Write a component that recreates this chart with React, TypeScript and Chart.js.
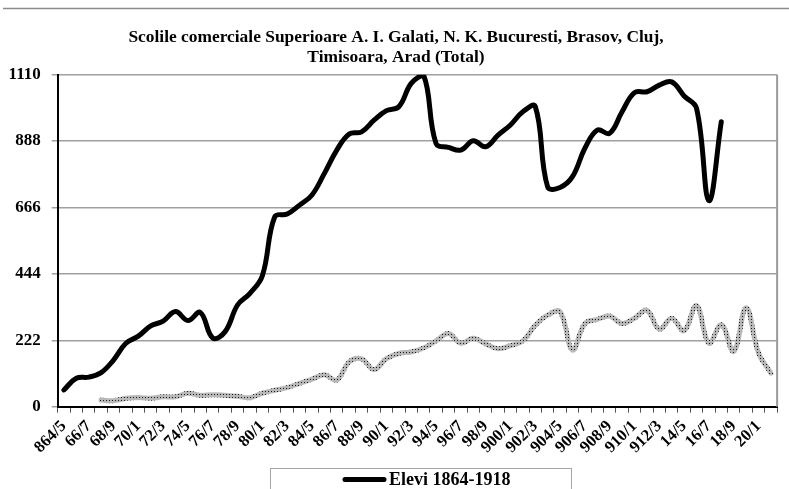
import React, { useEffect, useRef } from 'react';
import { Chart, registerables } from 'chart.js';

Chart.register(...registerables);

const categories = [
  '864/5', '65/6', '66/7', '67/8', '68/9', '69/70', '70/1', '71/2', '72/3', '73/4',
  '74/5', '75/6', '76/7', '77/8', '78/9', '79/80', '80/1', '81/2', '82/3', '83/4',
  '84/5', '85/6', '86/7', '87/8', '88/9', '89/90', '90/1', '91/2', '92/3', '93/4',
  '94/5', '95/6', '96/7', '97/8', '98/9', '99/900', '900/1', '901/2', '902/3', '903/4',
  '904/5', '905/6', '906/7', '907/8', '908/9', '909/10', '910/1', '911/2', '912/3', '913/4',
  '14/5', '15/6', '16/7', '17/8', '18/9', '19/20', '20/1', '21/2',
];

const elevi = [
  56, 95, 99, 114, 156, 212, 236, 270, 286, 318,
  288, 315, 230, 251, 340, 379, 438, 635, 644, 674,
  708, 780, 858, 912, 919, 958, 990, 1003, 1081, 1108,
  880, 867, 858, 889, 869, 908, 942, 986, 1004, 735,
  733, 769, 864, 925, 914, 986, 1050, 1053, 1075, 1086,
  1039, 998, 689, 953, null, null, null, null,
];

const secondSeries = [
  null, null, null, 22, 20, 28, 31, 28, 33, 33,
  45, 38, 40, 38, 35, 30, 45, 55, 64, 78,
  92, 107, 89, 150, 160, 124, 161, 178, 183, 196,
  220, 245, 212, 229, 210, 194, 204, 220, 272, 306,
  317, 190, 278, 292, 303, 278, 296, 322, 259, 296,
  254, 338, 212, 274, 185, 331, 180, 112,
];

const yTicks = [0, 222, 444, 666, 888, 1110];
const titleLines = [
  'Scolile comerciale Superioare A. I. Galati, N. K. Bucuresti, Brasov, Cluj,',
  'Timisoara, Arad (Total)',
];
const legendLabel = 'Elevi 1864-1918';

const FONT = '"Liberation Serif", "Times New Roman", serif';

const decorPlugin = {
  id: 'decor',
  beforeDraw(chart: any) {
    const { ctx, width, height } = chart;
    ctx.save();
    ctx.fillStyle = '#ffffff';
    ctx.fillRect(0, 0, width, height);
    ctx.restore();
  },
  afterDraw(chart: any) {
    const { ctx, chartArea } = chart;
    ctx.save();
    // outer frame top line
    ctx.strokeStyle = '#8c8c8c';
    ctx.lineWidth = 1.5;
    ctx.beginPath();
    ctx.moveTo(3, 8.5);
    ctx.lineTo(789, 8.5);
    ctx.stroke();
    // plot right border
    ctx.strokeStyle = '#9a9a9a';
    ctx.lineWidth = 2;
    ctx.beginPath();
    ctx.moveTo(chartArea.right, chartArea.top);
    ctx.lineTo(chartArea.right, chartArea.bottom);
    ctx.stroke();
    // title
    ctx.fillStyle = '#000';
    ctx.font = 'bold 17.4px ' + FONT;
    ctx.textAlign = 'center';
    ctx.textBaseline = 'middle';
    titleLines.forEach((t, k) => ctx.fillText(t, 396, 38 + k * 20));
    // legend
    ctx.strokeStyle = '#a6a6a6';
    ctx.lineWidth = 1;
    ctx.strokeRect(270.5, 468.5, 301, 30);
    ctx.strokeStyle = '#000';
    ctx.lineWidth = 5;
    ctx.lineCap = 'round';
    ctx.beginPath();
    ctx.moveTo(345, 479.5);
    ctx.lineTo(384, 479.5);
    ctx.stroke();
    ctx.textAlign = 'left';
    ctx.font = 'bold 18px ' + FONT;
    ctx.fillText(legendLabel, 389, 480);
    ctx.restore();
  },
};

export default function App() {
  const ref = useRef<HTMLCanvasElement | null>(null);

  useEffect(() => {
    document.body.style.margin = '0';
    const canvas = ref.current!;
    const ctx = canvas.getContext('2d')!;

    const pc = document.createElement('canvas');
    pc.width = 3;
    pc.height = 3;
    const p = pc.getContext('2d')!;
    p.fillStyle = '#b8b8b8';
    p.fillRect(0, 0, 3, 3);
    p.fillStyle = '#1a1a1a';
    p.fillRect(1, 1, 1, 1);
    const pattern = ctx.createPattern(pc, 'repeat');

    const chart = new Chart(ctx, {
      type: 'line',
      data: {
        labels: categories,
        datasets: [
          {
            label: 'Second series',
            data: secondSeries,
            borderColor: pattern as any,
            borderWidth: 5,
            pointRadius: 0,
            tension: 0.4,
            fill: false,
            spanGaps: false,
            borderCapStyle: 'round',
            borderJoinStyle: 'round',
          },
          {
            label: legendLabel,
            data: elevi,
            borderColor: '#000000',
            borderWidth: 5,
            pointRadius: 0,
            tension: 0.4,
            fill: false,
            spanGaps: false,
            borderCapStyle: 'round',
            borderJoinStyle: 'round',
          },
        ],
      },
      options: {
        responsive: false,
        animation: false,
        devicePixelRatio: 1,
        layout: { padding: { left: 0, right: 9, top: 74.7, bottom: 22.3 } },
        plugins: {
          legend: { display: false },
          title: { display: false },
          tooltip: { enabled: false },
        },
        scales: {
          x: {
            type: 'category',
            offset: true,
            afterFit: (s: any) => { s.height = 60; },
            grid: {
              offset: true,
              drawOnChartArea: false,
              drawTicks: true,
              tickLength: 6,
              color: '#555555',
            },
            border: { color: '#000000', width: 2 },
            ticks: {
              autoSkip: false,
              minRotation: 45,
              maxRotation: 45,
              padding: 4,
              color: '#000',
              font: { family: FONT, size: 16.5, weight: 'bold' },
              callback: (_v: any, i: number) => (i % 2 === 0 ? categories[i] : ''),
            },
          },
          y: {
            min: 0,
            max: 1110,
            afterFit: (s: any) => { s.width = 57.7; },
            afterBuildTicks: (s: any) => { s.ticks = yTicks.map((v) => ({ value: v })); },
            grid: {
              color: '#a0a0a0',
              lineWidth: 1.5,
              tickLength: 6,
            },
            border: { color: '#000000', width: 2 },
            ticks: {
              padding: 11,
              color: '#000',
              font: { family: FONT, size: 17, weight: 'bold' },
              callback: (v: any) => String(v),
            },
          },
        },
      },
      plugins: [decorPlugin],
    });
    return () => chart.destroy();
  }, []);

  return <canvas ref={ref} width={789} height={489} style={{ display: 'block' }} />;
}
